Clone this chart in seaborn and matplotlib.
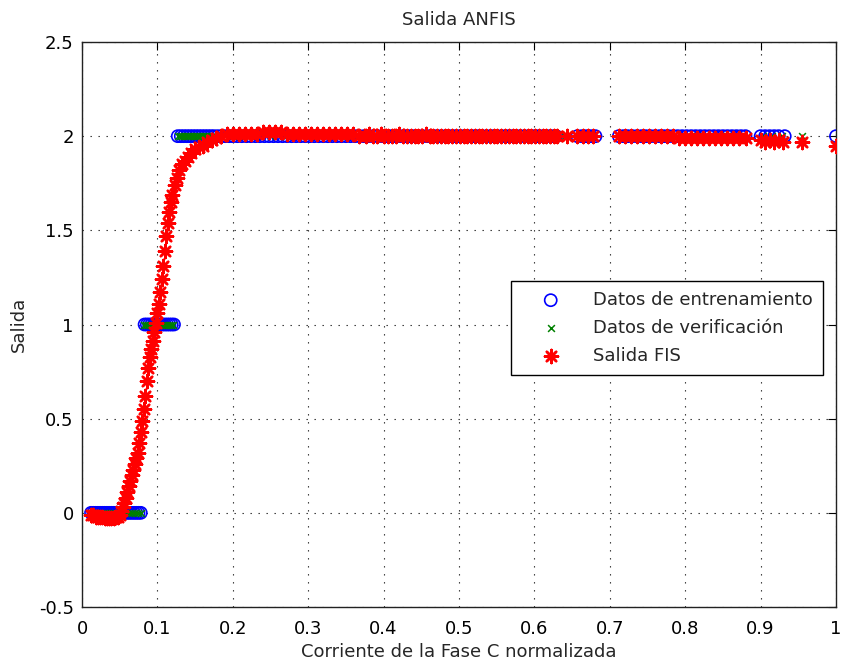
import matplotlib
matplotlib.use("Agg")
import matplotlib.pyplot as plt
import seaborn as sns
import pandas as pd

# ---- training data (class 0, 1, 2) ----
train_x0 = [0.012, 0.015, 0.018, 0.021, 0.024, 0.027, 0.030, 0.033, 0.036, 0.039,
            0.042, 0.045, 0.048, 0.051, 0.054, 0.057, 0.060, 0.063, 0.066, 0.069,
            0.072, 0.075, 0.078]
train_x1 = [0.083, 0.086, 0.089, 0.092, 0.095, 0.098, 0.101, 0.104, 0.107, 0.110,
            0.113, 0.116, 0.119, 0.122]
train_x2 = [0.127, 0.131, 0.135, 0.139, 0.143, 0.147, 0.151, 0.155, 0.159, 0.163,
            0.167, 0.171, 0.175, 0.180, 0.185, 0.190, 0.195, 0.200, 0.206, 0.212,
            0.218, 0.224, 0.230, 0.236, 0.242, 0.248, 0.254, 0.260, 0.266, 0.272,
            0.278, 0.284, 0.290, 0.296, 0.302, 0.308, 0.314, 0.320, 0.326, 0.332,
            0.338, 0.344, 0.350, 0.356, 0.362, 0.368, 0.374, 0.380, 0.386, 0.392,
            0.398, 0.404, 0.410, 0.416, 0.422, 0.428, 0.434, 0.440, 0.446, 0.452,
            0.458, 0.464, 0.470, 0.476, 0.482, 0.488, 0.494, 0.500, 0.506, 0.512,
            0.518, 0.524, 0.531, 0.537, 0.544, 0.551, 0.557, 0.563, 0.569, 0.575,
            0.581, 0.587, 0.593, 0.599, 0.605, 0.611, 0.617, 0.623, 0.629, 0.657,
            0.663, 0.669, 0.675, 0.681, 0.712, 0.718, 0.724, 0.730, 0.736, 0.742,
            0.748, 0.754, 0.760, 0.766, 0.772, 0.778, 0.784, 0.790, 0.796, 0.802,
            0.808, 0.814, 0.820, 0.826, 0.832, 0.838, 0.844, 0.850, 0.856, 0.862,
            0.868, 0.874, 0.880, 0.900, 0.906, 0.912, 0.918, 0.924, 0.932, 1.000]

# ---- verification data ----
check_x0 = [0.014, 0.018, 0.022, 0.026, 0.030, 0.034, 0.038, 0.042, 0.046, 0.050,
            0.054, 0.058, 0.062, 0.066, 0.070, 0.074, 0.078]
check_x1 = [0.082, 0.085, 0.088, 0.091, 0.094, 0.097, 0.100, 0.103, 0.106, 0.109,
            0.112, 0.115, 0.118, 0.121]
check_x2 = [0.127, 0.130, 0.133, 0.136, 0.139, 0.142, 0.145, 0.148, 0.151, 0.154,
            0.157, 0.160, 0.163, 0.166, 0.169, 0.172, 0.176, 0.180, 0.185, 0.190,
            0.196, 0.202, 0.215, 0.230, 0.250, 0.270, 0.290, 0.310, 0.330, 0.350,
            0.370, 0.390, 0.410, 0.430, 0.450, 0.470, 0.490, 0.510, 0.530, 0.550,
            0.570, 0.590, 0.610, 0.627, 0.640, 0.660, 0.678, 0.715, 0.735, 0.755,
            0.775, 0.795, 0.815, 0.835, 0.855, 0.875, 0.903, 0.915, 0.928, 0.955]

# ---- FIS output, in segments ----
fis_rise_x = [0.012, 0.015, 0.018, 0.021, 0.024, 0.027, 0.030, 0.033, 0.036, 0.039,
              0.042, 0.045, 0.048, 0.050, 0.052, 0.054, 0.056, 0.058, 0.060, 0.062,
              0.064, 0.066, 0.068, 0.070, 0.072, 0.074, 0.076, 0.078, 0.080, 0.082,
              0.084, 0.086, 0.088, 0.090, 0.092, 0.094, 0.096, 0.098, 0.100, 0.102,
              0.104, 0.106, 0.108, 0.110, 0.112, 0.114, 0.116, 0.118, 0.120, 0.123,
              0.126, 0.129, 0.132, 0.136, 0.140, 0.145, 0.150, 0.155, 0.160, 0.166,
              0.172, 0.178, 0.185, 0.192]
fis_rise_y = [-0.01, -0.01, -0.02, -0.02, -0.02, -0.02, -0.03, -0.03, -0.03, -0.03,
              -0.03, -0.02, -0.02, -0.01, 0.01, 0.03, 0.05, 0.08, 0.11, 0.14,
              0.17, 0.20, 0.23, 0.26, 0.29, 0.32, 0.37, 0.43, 0.49, 0.55,
              0.62, 0.70, 0.77, 0.83, 0.87, 0.91, 0.96, 1.01, 1.06, 1.11,
              1.17, 1.24, 1.31, 1.39, 1.47, 1.54, 1.60, 1.65, 1.69, 1.74,
              1.78, 1.82, 1.85, 1.87, 1.89, 1.91, 1.93, 1.94, 1.95, 1.97,
              1.98, 1.99, 2.00, 2.01]
fis_flat1_x = [0.200, 0.208, 0.216, 0.224, 0.232, 0.240, 0.248, 0.256, 0.264, 0.272,
               0.280, 0.288, 0.296, 0.304, 0.312, 0.320, 0.328, 0.336, 0.344, 0.352,
               0.360, 0.368, 0.376]
fis_flat1_y = [2.01, 2.01, 2.01, 2.01, 2.01, 2.02, 2.02, 2.02, 2.02, 2.01,
               2.01, 2.01, 2.01, 2.01, 2.01, 2.01, 2.01, 2.01, 2.01, 2.01,
               2.01, 2.00, 2.00]
fis_flat2_x = [0.381, 0.386, 0.391, 0.396, 0.401, 0.406, 0.411, 0.416, 0.421, 0.426,
               0.431, 0.436, 0.441, 0.446, 0.451, 0.456, 0.461, 0.466, 0.471, 0.476,
               0.481, 0.486, 0.491, 0.496, 0.501, 0.506, 0.511, 0.516, 0.521, 0.526,
               0.531, 0.536, 0.541, 0.546, 0.551, 0.556, 0.561, 0.566, 0.571, 0.576,
               0.581, 0.586, 0.591, 0.596, 0.601, 0.606, 0.611, 0.616, 0.621, 0.626,
               0.630]
fis_flat2_y = [2.01, 2.00, 2.00, 2.01, 2.00, 2.00, 2.00, 2.00, 2.01, 2.00,
               2.00, 2.00, 2.00, 2.00, 2.00, 2.01, 2.00, 2.00, 2.00, 2.00,
               2.00, 2.00, 2.00, 2.00, 2.00, 2.00, 2.00, 2.00, 2.00, 2.00,
               2.00, 2.00, 2.00, 2.00, 2.00, 2.00, 2.00, 2.00, 2.00, 2.00,
               2.00, 2.00, 2.00, 2.00, 2.00, 2.00, 2.00, 2.00, 2.00, 2.00,
               2.00]
fis_tail_x = [0.643, 0.657, 0.664, 0.671, 0.678, 0.712, 0.720, 0.728, 0.736, 0.744,
              0.752, 0.760, 0.768, 0.776, 0.784, 0.792, 0.800, 0.808, 0.816, 0.824,
              0.832, 0.840, 0.848, 0.856, 0.864, 0.872, 0.880, 0.900, 0.906, 0.912,
              0.918, 0.924, 0.930, 0.955, 1.000]
fis_tail_y = [2.00, 2.00, 2.00, 2.00, 2.00, 2.00, 2.00, 2.00, 2.00, 2.00,
              2.00, 2.00, 2.00, 2.00, 2.00, 1.99, 1.99, 1.99, 1.99, 1.99,
              1.99, 1.99, 1.99, 1.99, 1.99, 1.99, 1.99, 1.98, 1.97, 1.98,
              1.97, 1.98, 1.97, 1.97, 1.95]

x_ticks = [0, 0.1, 0.2, 0.3, 0.4, 0.5, 0.6, 0.7, 0.8, 0.9, 1]
x_tick_labels = ["0", "0.1", "0.2", "0.3", "0.4", "0.5", "0.6", "0.7", "0.8", "0.9", "1"]
y_ticks = [-0.5, 0, 0.5, 1, 1.5, 2, 2.5]
y_tick_labels = ["-0.5", "0", "0.5", "1", "1.5", "2", "2.5"]

train = pd.DataFrame({
    "x": train_x0 + train_x1 + train_x2,
    "y": [0] * len(train_x0) + [1] * len(train_x1) + [2] * len(train_x2),
})
check = pd.DataFrame({
    "x": check_x0 + check_x1 + check_x2,
    "y": [0] * len(check_x0) + [1] * len(check_x1) + [2] * len(check_x2),
})
fis = pd.DataFrame({
    "x": fis_rise_x + fis_flat1_x + fis_flat2_x + fis_tail_x,
    "y": fis_rise_y + fis_flat1_y + fis_flat2_y + fis_tail_y,
})

sns.set_style("white")
plt.rcParams["font.family"] = ["DejaVu Sans"]
FS = 13

fig = plt.figure(figsize=(8.42, 6.62), dpi=100)
ax = fig.add_axes([82 / 842, 55 / 662, 754 / 842, 565 / 662])

sns.scatterplot(data=train, x="x", y="y", ax=ax, marker="o", s=76,
                facecolor="none", edgecolor="#0000ff", linewidth=1.2,
                label="Datos de entrenamiento", zorder=3)
sns.scatterplot(data=check, x="x", y="y", ax=ax, marker="x", s=24,
                color="#008000", linewidth=1.1,
                label="Datos de verificación", zorder=4)
sns.scatterplot(data=fis, x="x", y="y", ax=ax, marker=(8, 2, 0), s=90,
                color="#ff0000", linewidth=1.8,
                label="Salida FIS", zorder=5)

ax.set_xlim(0, 1)
ax.set_ylim(-0.5, 2.5)
ax.set_xticks(x_ticks)
ax.set_xticklabels(x_tick_labels)
ax.set_yticks(y_ticks)
ax.set_yticklabels(y_tick_labels)

ax.grid(True, color="#222222", linestyle=(0, (1.2, 6)), linewidth=0.8)
ax.set_axisbelow(True)
ax.tick_params(direction="in", length=6, width=0.8, colors="black",
               top=True, right=True, labelsize=FS)
ax.tick_params(axis="x", pad=9)
ax.tick_params(axis="y", pad=6)
for sp in ax.spines.values():
    sp.set_visible(True)
    sp.set_color("#222222")
    sp.set_linewidth(1.0)

ax.set_title("Salida ANFIS", fontsize=FS, pad=12)
ax.set_xlabel("Corriente de la Fase C normalizada", fontsize=FS, labelpad=4)
ax.set_ylabel("Salida", fontsize=FS, labelpad=8)

leg = ax.legend(loc="upper left", bbox_to_anchor=((511 - 82) / 754, (607 - 281) / 565),
                fontsize=FS, frameon=True, fancybox=False, framealpha=1,
                edgecolor="black", borderpad=0.55, handlelength=3.3,
                handletextpad=0.7, labelspacing=0.55, borderaxespad=0)
leg.get_frame().set_linewidth(1.0)

fig.savefig("out.png", dpi=100)
